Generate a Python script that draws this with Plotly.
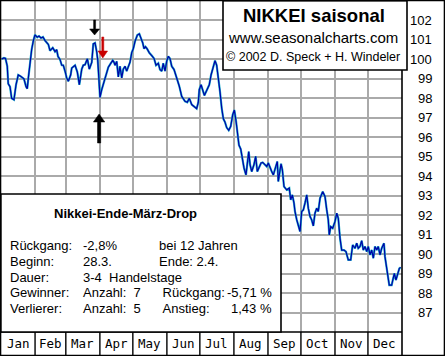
import plotly.graph_objects as go

# ---------------- data (day of year, index value) ----------------
days = [0.6, 2.7, 4.1, 5.7, 6.6, 8.2, 9.7, 11.8, 13.7, 15.7, 17.9, 19.6, 20.9, 22.8, 23.9, 24.9,
        26.4, 27.9, 29.4, 30.9, 33.0, 34.6, 36.4, 38.2, 40.1, 41.6, 43.1, 44.6, 47.1, 49.2, 50.7,
        51.9, 53.7, 55.3, 56.7, 58.3, 59.8, 61.3, 63.4, 64.4, 66.0, 67.4, 69.5, 71.3, 73.5, 74.9,
        76.5, 78.6, 80.4, 81.5, 82.6, 84.0, 85.6, 87.1, 88.0, 88.9, 90.1, 91.7, 93.1, 95.6, 97.7,
        99.9, 101.7, 102.9, 103.8, 105.3, 106.8, 108.3, 109.9, 111.3, 112.9, 114.4, 115.9, 117.4,
        119.0, 120.4, 122.0, 124.1, 125.9, 127.4, 129.0, 130.2, 131.5, 132.9, 135.0, 137.2, 139.3,
        141.1, 143.2, 144.7, 146.3, 147.7, 149.3, 150.8, 152.3, 153.8, 155.4, 157.5, 159.9, 162.3,
        164.5, 167.5, 169.6, 171.4, 173.6, 175.7, 178.1, 179.6, 180.5, 182.1, 183.6, 185.1, 187.2,
        189.6, 191.2, 193.2, 194.8, 196.3, 197.8, 199.3, 200.9, 202.4, 203.9, 205.4, 207.3, 209.1,
        210.9, 212.4, 213.9, 215.1, 216.6, 218.2, 219.6, 221.2, 223.0, 224.6, 225.5, 226.7, 228.2,
        230.3, 231.8, 233.3, 234.8, 236.7, 238.2, 240.3, 241.9, 243.3, 244.9, 246.4, 247.9, 249.4,
        251.5, 252.4, 253.3, 254.9, 256.1, 257.6, 260.1, 262.4, 263.7, 265.2, 266.7, 267.6, 269.2,
        270.6, 272.2, 273.7, 275.2, 276.7, 278.3, 279.7, 281.3, 282.8, 284.3, 285.8, 287.4, 288.8,
        290.4, 292.8, 294.9, 296.5, 297.9, 298.8, 300.1, 301.9, 304.0, 305.6, 307.0, 308.6, 310.1,
        312.2, 314.0, 316.1, 318.3, 320.1, 322.2, 323.8, 325.2, 326.8, 328.3, 329.8, 331.3, 332.9,
        334.3, 335.9, 337.4, 338.9, 340.4, 342.0, 343.4, 345.0, 346.5, 348.6, 349.5, 351.1, 352.5,
        353.4, 355.6, 357.1, 358.0, 359.5, 360.7, 362.6, 363.8]
values = [100.02, 100.08, 100.05, 99.65, 98.75, 98.6, 98.0, 97.93, 98.7, 99.2, 99.13, 99.05, 99.0,
          98.6, 98.5, 99.05, 99.85, 100.5, 100.95, 101.26, 101.14, 101.2, 101.1, 101.15, 100.97,
          100.85, 100.77, 100.45, 100.6, 100.4, 100.5, 100.15, 100.0, 99.7, 99.7, 99.4, 99.05,
          98.88, 99.2, 99.56, 99.65, 99.7, 99.35, 98.7, 99.5, 99.7, 99.73, 100.03, 99.5, 99.65,
          99.85, 100.8, 100.85, 100.4, 100.0, 99.2, 98.05, 98.45, 98.75, 99.3, 99.6, 99.8, 99.95,
          99.85, 99.7, 99.9, 99.1, 99.65, 99.05, 99.5, 99.65, 99.4, 99.6, 99.85, 100.35, 100.55,
          100.93, 101.25, 101.31, 101.1, 100.85, 100.55, 100.65, 100.55, 100.34, 100.2, 100.05,
          99.7, 99.8, 99.48, 99.4, 99.8, 99.4, 99.9, 100.16, 100.05, 99.65, 99.48, 99.1, 98.62,
          98.1, 97.85, 97.8, 98.0, 97.68, 97.59, 97.47, 97.8, 98.45, 98.7, 98.45, 98.15, 98.4,
          98.7, 99.2, 99.7, 99.94, 99.7, 99.1, 98.36, 97.5, 96.95, 96.78, 96.5, 96.36, 96.56,
          97.16, 97.4, 96.85, 96.2, 95.6, 95.4, 94.9, 94.42, 94.07, 94.76, 95.27, 94.6, 94.24,
          94.6, 95.02, 94.24, 94.42, 94.68, 94.71, 94.59, 94.5, 94.68, 94.42, 94.24, 94.07, 94.42,
          94.76, 93.73, 94.16, 94.64, 94.33, 93.47, 93.3, 93.39, 92.79, 93.04, 92.62, 92.19, 91.76,
          91.41, 91.16, 92.19, 92.27, 92.62, 93.04, 92.36, 91.93, 91.76, 91.45, 92.1, 92.36, 92.19,
          92.87, 93.21, 92.96, 92.27, 91.76, 90.99, 91.41, 91.33, 91.67, 92.1, 91.84, 90.81, 90.21,
          90.21, 90.13, 89.7, 89.7, 90.47, 90.3, 90.56, 90.3, 90.39, 90.69, 90.21, 90.39, 90.13,
          90.39, 89.96, 90.21, 89.79, 90.39, 90.21, 90.39, 89.96, 90.3, 90.56, 89.87, 89.27, 88.84,
          88.41, 88.41, 88.76, 89.01, 88.67, 88.93, 89.27, 89.32]

month_starts = [0, 31, 59, 90, 120, 151, 181, 212, 243, 273, 304, 334, 365]
month_labels = ["Jan", "Feb", "Mar", "Apr", "May", "Jun", "Jul", "Aug", "Sep", "Oct", "Nov", "Dec"]
y_ticks = [87, 88, 89, 90, 91, 92, 93, 94, 95, 96, 97, 98, 99, 100, 101, 102]

title_lines = ["NIKKEI saisonal", "www.seasonalcharts.com", "© 2002 D. Speck + H. Windeler"]
info_title = "Nikkei-Ende-März-Drop"
info_rows = [
    ["Rückgang:", "-2,8%", "bei 12 Jahren", ""],
    ["Beginn:", "28.3.", "Ende: 2.4.", ""],
    ["Dauer:", "3-4\u00a0\u00a0Handelstage", "", ""],
    ["Gewinner:", "Anzahl:\u00a0\u00a07", "\u00a0Rückgang:", "-5,71 %"],
    ["Verlierer:", "Anzahl:\u00a0\u00a05", "\u00a0Anstieg:", "1,43 %"],
]

# ---------------- layout helpers (pixel -> paper) ----------------
W, H = 445, 356
L, R, T, B = 1, 402, 1, 332


def PX(x):
    return (x - L) / (R - L)


def PY(y):
    return (B - y) / (B - T)


FONT = "Liberation Sans, Arial, sans-serif"
shapes = []
ann = []

fig = go.Figure()
fig.add_trace(go.Scatter(x=days, y=values, mode="lines",
                         line=dict(color="#22B4CC", width=2.2), hoverinfo="skip"))
fig.add_trace(go.Scatter(x=days, y=values, mode="lines",
                         line=dict(color="#0000A8", width=1.2), hoverinfo="skip"))


def rect(x0, y0, x1, y1, fill="white", line="black", lw=1.6, layer="above"):
    shapes.append(dict(type="rect", xref="paper", yref="paper",
                       x0=PX(x0), x1=PX(x1), y0=PY(y1), y1=PY(y0),
                       fillcolor=fill, line=dict(color=line, width=lw), layer=layer))


def poly(pts, color):
    p = "M " + " L ".join(f"{PX(a):.5f},{PY(b):.5f}" for a, b in pts) + " Z"
    shapes.append(dict(type="path", xref="paper", yref="paper", path=p,
                       fillcolor=color, line=dict(color=color, width=0.5), layer="above"))


# white backgrounds of arrows
rect(88, 16, 101, 37, fill="white", line="white", lw=0, layer="between")
rect(97.5, 36, 108.5, 58, fill="white", line="white", lw=0, layer="between")
rect(91, 110, 108, 152, fill="white", line="white", lw=0, layer="between")

# small black down arrow
poly([(93.6, 20), (95.6, 20), (95.6, 29), (99.6, 29), (94.6, 35), (89.6, 29), (93.6, 29)], "black")
# red down arrow
poly([(101.8, 37), (103.8, 37), (103.8, 51), (107.6, 51), (102.8, 58), (98.0, 51), (101.8, 51)], "#C80000")
# big black up arrow
poly([(97.5, 143), (100.7, 143), (100.7, 122), (104.8, 122), (99.1, 114), (93.4, 122), (97.5, 122)], "black")

# plot frame lines
shapes.append(dict(type="line", xref="paper", yref="paper", x0=PX(R), x1=PX(R), y0=PY(0), y1=PY(355),
                   line=dict(color="black", width=1.6), layer="above"))
shapes.append(dict(type="line", xref="paper", yref="paper", x0=PX(0), x1=PX(R), y0=PY(B), y1=PY(B),
                   line=dict(color="black", width=1.6), layer="above"))
# month dividers
for m in month_starts[1:-1]:
    shapes.append(dict(type="line", xref="x", yref="paper", x0=m, x1=m, y0=PY(B), y1=PY(355),
                       line=dict(color="black", width=1.4), layer="above"))
for i, lab in enumerate(month_labels):
    ann.append(dict(x=(month_starts[i] + month_starts[i + 1]) / 2, xref="x", y=PY(343.5), yref="paper",
                    text=lab, showarrow=False, xanchor="center", yanchor="middle",
                    font=dict(family="DejaVu Sans Mono, monospace", size=12.5, color="black")))

# y tick labels (right side)
for v in y_ticks:
    ann.append(dict(x=PX(433.5), xref="paper", y=v, yref="y", text=str(v), showarrow=False,
                    xanchor="right", yanchor="middle", font=dict(family=FONT, size=13, color="black")))

# title box
rect(223, 0.8, 407, 70)
ann.append(dict(x=PX(314), y=PY(15.5), xref="paper", yref="paper", text="<b>" + title_lines[0] + "</b>",
                showarrow=False, xanchor="center", yanchor="middle", font=dict(family=FONT, size=18.5, color="black")))
ann.append(dict(x=PX(313), y=PY(38), xref="paper", yref="paper", text=title_lines[1],
                showarrow=False, xanchor="center", yanchor="middle", font=dict(family=FONT, size=15, color="black")))
ann.append(dict(x=PX(313), y=PY(57), xref="paper", yref="paper", text=title_lines[2],
                showarrow=False, xanchor="center", yanchor="middle", font=dict(family=FONT, size=12.5, color="black")))

# info box
rect(0.8, 194, 281, B)
ann.append(dict(x=PX(125), y=PY(213), xref="paper", yref="paper", text="<b>" + info_title + "</b>",
                showarrow=False, xanchor="center", yanchor="middle", font=dict(family=FONT, size=13, color="black")))
row_y = [246, 261.5, 277, 292.5, 308]
col_x = [8, 81, 157]
for r, yy in zip(info_rows, row_y):
    for c in range(3):
        if r[c]:
            ann.append(dict(x=PX(col_x[c]), y=PY(yy), xref="paper", yref="paper", text=r[c],
                            showarrow=False, xanchor="left", yanchor="middle",
                            font=dict(family=FONT, size=13, color="black")))
    if r[3]:
        ann.append(dict(x=PX(273.5), y=PY(yy), xref="paper", yref="paper", text=r[3],
                        showarrow=False, xanchor="right", yanchor="middle",
                        font=dict(family=FONT, size=13, color="black")))

# outer frame
rect(0.6, 0.6, 444.4, 355.4, fill="rgba(0,0,0,0)", lw=1.4)

fig.update_layout(
    width=W, height=H, autosize=False,
    margin=dict(l=L, r=W - R, t=T, b=H - B, pad=0),
    paper_bgcolor="white", plot_bgcolor="white",
    showlegend=False, hovermode=False,
    xaxis=dict(range=[0, 365], tickvals=month_starts[1:-1], showticklabels=False, ticks="",
               showgrid=True, gridcolor="#AAAAAA", gridwidth=1.6, zeroline=False, showline=False, fixedrange=True),
    yaxis=dict(range=[86, 103], tickvals=y_ticks, showticklabels=False, ticks="",
               showgrid=True, gridcolor="#AAAAAA", gridwidth=1.6, zeroline=False, showline=False, fixedrange=True),
    shapes=shapes, annotations=ann,
)

fig.write_html("out.html", config={"displayModeBar": False},
               post_script="document.body.style.margin='0';document.body.style.overflow='hidden';")
